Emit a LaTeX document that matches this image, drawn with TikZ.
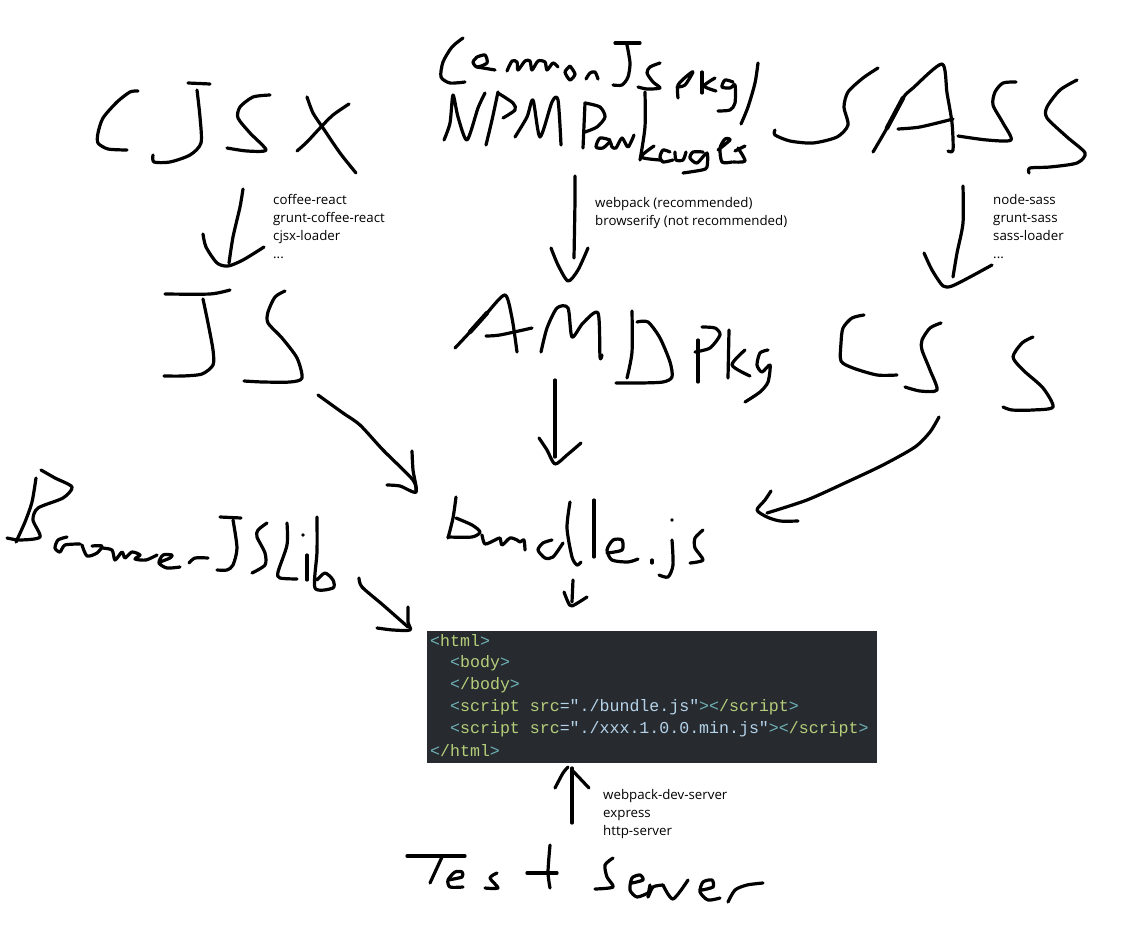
\documentclass[tikz,border=0pt]{standalone}
\usepackage{fontspec}
\setmainfont{Open Sans}
\newfontfamily\codefont{Liberation Mono}
\definecolor{boxbg}{HTML}{272B2F}
\definecolor{cbr}{HTML}{6FB3B8}
\definecolor{ctag}{HTML}{B5CE7A}
\definecolor{cstr}{HTML}{B4D2EA}
\newcommand{\hw}[1]{\draw[hand] plot[smooth,tension=0.45] coordinates {#1};}
\newcommand{\lt}{\textcolor{cbr}{<}}
\newcommand{\gt}{\textcolor{cbr}{>}}
\newcommand{\tg}[1]{\textcolor{ctag}{#1}}
\newcommand{\st}[1]{\textcolor{cstr}{#1}}
\tikzset{
  hand/.style={line width=3.2pt,line cap=round,line join=round,black},
  lab/.style={font=\fontsize{13.3}{18.2}\selectfont,anchor=north west,align=left,inner sep=0pt,text=black},
  codeline/.style={font=\codefont\fontsize{16.6}{20}\selectfont,anchor=west,inner sep=0pt},
  codebox/.style={fill=boxbg,anchor=north west,minimum width=450pt,minimum height=132pt,inner sep=0pt}
}
\begin{document}
\begin{tikzpicture}[x=1pt,y=-1pt]
\useasboundingbox (0,0) rectangle (1134,936);
\fill[white] (0,0) rectangle (1134,936);
% CJSX
\hw{(138,91)(130,92)(117,102)(103,118)(98,133)(98,143)(108,149)(127,150)}
\hw{(188,83)(210,84)}
\hw{(197,90)(200,117)(201,143)(190,155)(170,162)(154,162)(153,155)}
\hw{(270,95)(253,97)(240,107)(238,118)(250,133)(266,150)(247,151)(227,148)}
\hw{(307,97)(313,113)(323,128)(340,153)(356,173)}
\hw{(349,104)(333,115)(320,128)(307,142)(297,151)}
\hw{(243,189)(240,207)(233,237)(229,263)}
\hw{(203,234)(206,247)(217,263)(228,266)(243,260)(264,247)}
\node[lab] (l1) at (273,194) {coffee-react\\grunt-coffee-react\\cjsx-loader\\...};
% CommonJS pkg / NPM Packages
\hw{(463,38)(452,47)(443,62)(441,77)(450,83)(465,82)}
\hw{(477,57)(485,55)(487,63)(477,67)(473,62)(477,57)}
\hw{(477,67)(495,70)}
\hw{(507,71)(512,61)(517,62)(518,70)(525,61)(530,61)(532,70)(538,61)(545,62)(547,70)(553,63)(558,67)}
\hw{(570,66)(565,72)(570,80)(575,74)(570,66)}
\hw{(586,79)(590,73)(595,72)(598,79)}
\hw{(615,43)(640,43)}
\hw{(627,45)(630,63)(628,77)(622,85)(613,85)}
\hw{(660,63)(650,67)(647,73)(653,82)(660,88)(647,89)(638,87)}
\hw{(678,98)(678,85)(688,75)(693,72)(685,85)(677,87)}
\hw{(702,72)(702,93)}
\hw{(715,78)(704,86)(716,91)}
\hw{(733,82)(725,80)(722,87)(730,88)(735,85)(735,103)(730,110)(718,111)}
\hw{(758,63)(755,83)(748,107)(741,124)}
\hw{(444,140)(450,123)(453,95)(458,117)(467,140)(478,108)(485,93)}
\hw{(498,92)(492,120)(486,145)}
\hw{(498,93)(513,103)(515,110)(503,118)}
\hw{(515,137)(527,117)(533,100)(540,137)(552,102)(558,100)(561,145)}
\hw{(585,103)(583,148)}
\hw{(585,103)(600,107)(605,117)(597,127)(585,132)}
\hw{(610,140)(600,138)(596,147)(603,148)(610,142)(612,147)(616,148)(622,138)(628,147)(634,135)}
\hw{(645,92)(645,127)(640,160)}
\hw{(654,146)(641,157)(660,160)}
\hw{(670,152)(663,150)(660,157)(663,162)(673,160)}
\hw{(675,152)(676,160)(683,160)(686,152)}
\hw{(703,152)(693,152)(690,158)(697,163)(707,153)(707,167)(702,170)(683,173)}
\hw{(718,150)(730,140)(725,139)(720,148)(722,162)(732,162)}
\hw{(735,151)(745,146)}
\hw{(738,148)(745,161)(733,162)}
\hw{(575,176)(575,200)(574,258)}
\hw{(551,248)(558,265)(568,281)(578,270)(588,248)}
\node[lab] (l2) at (595,197) {webpack (recommended)\\browserify (not recommended)};
% SASS
\hw{(878,68)(863,78)(848,92)(844,107)(848,125)(837,137)(813,143)(790,141)(775,135)(775,130)}
\hw{(873,152)(887,128)(903,98)(913,88)(942,64)(947,93)(952,123)(953,150)(948,151)}
\draw[hand,line width=4.5pt] (887,128) -- (903,98);
\hw{(898,129)(920,127)(953,119)}
\hw{(1016,82)(1003,83)(995,92)(993,105)(1003,123)(1011,140)(987,140)(958,136)}
\hw{(1077,80)(1060,90)(1047,107)(1047,118)(1067,137)(1085,153)(1077,163)(1050,167)(1030,168)(1029,173)}
\hw{(963,186)(963,223)(957,253)(953,277)}
\hw{(924,253)(932,270)(943,286)(952,286)(970,277)(992,265)}
\node[lab] (l3) at (993,194) {node-sass\\grunt-sass\\sass-loader\\...};
% JS
\hw{(165,294)(210,294)(230,290)}
\hw{(203,299)(208,323)(213,350)(213,365)(202,374)(183,376)(164,376)}
\hw{(285,291)(275,297)(268,312)(268,323)(282,338)(297,358)(302,378)(290,382)(263,382)(244,381)}
\hw{(318,395)(343,413)(360,425)(383,450)(413,480)(416,492)}
\hw{(412,451)(413,470)(416,492)(400,486)(387,485)}
% AMD Pkg
\hw{(455,348)(470,332)(487,313)(505,295)(512,318)(517,352)}
\draw[hand,line width=4.5pt] (470,332) -- (487,313);
\hw{(486,336)(500,335)(532,328)}
\hw{(541,352)(547,328)(557,308)(568,308)(572,337)(583,323)(598,313)(600,357)(602,355)}
\hw{(632,311)(632,352)(627,378)}
\hw{(637,322)(648,322)(660,338)(670,362)(672,377)(663,382)(640,383)(616,383)}
\hw{(698,340)(698,382)}
\hw{(702,327)(715,328)(720,335)(710,348)(695,352)}
\hw{(729,330)(728,378)}
\hw{(745,350)(732,365)(750,376)}
\hw{(768,350)(760,353)(757,365)(762,372)(770,365)(768,382)(760,392)(745,402)}
\hw{(555,380)(555,457)}
\hw{(539,438)(547,450)(555,464)(567,455)(581,443)}
% CSS
\hw{(864,315)(852,318)(843,328)(841,343)(841,361)(853,368)(877,375)(897,375)}
\hw{(941,323)(930,328)(922,340)(922,350)(930,370)(937,390)(920,391)(905,387)}
\hw{(1033,337)(1022,343)(1013,357)(1023,370)(1043,388)(1053,407)(1033,410)(1012,410)(1003,407)}
\hw{(939,417)(930,432)(915,447)(883,465)(847,482)(807,500)(767,513)}
\hw{(771,491)(765,500)(757,510)(767,517)(780,521)(798,521)}
% Browser JS Lib
\hw{(36,478)(32,502)(25,522)(16,542)}
\hw{(41,470)(55,478)(72,487)(63,498)(38,508)(33,520)(40,537)(20,540)(7,538)}
\hw{(67,537)(58,540)(55,548)(60,552)(65,545)(80,544)}
\hw{(82,545)(87,556)(97,553)(102,546)(92,546)}
\hw{(102,548)(112,550)(115,560)(122,552)(125,558)(132,552)(140,555)(135,559)(146,560)(157,555)}
\hw{(160,562)(170,558)(172,555)(163,555)(159,563)(167,568)(180,567)}
\hw{(189,563)(195,558)(208,558)}
\hw{(220,517)(241,518)}
\hw{(233,520)(237,548)(233,565)(227,570)(217,570)}
\hw{(267,523)(258,530)(257,537)(265,553)(265,565)(252,573)}
\hw{(287,523)(287,545)(278,572)(280,578)(297,579)}
\hw{(307,555)(307,580)}
\fill (303,535) circle (1.8pt);
\hw{(317,517)(317,552)(315,588)(333,588)(333,580)(325,573)(317,580)}
\hw{(359,578)(362,587)(383,605)(408,627)}
\hw{(408,607)(408,622)(410,630)(393,630)(377,628)}
% bundle.js
\hw{(456,497)(453,518)(448,538)}
\hw{(456,518)(472,525)(480,532)(472,537)(448,537)}
\hw{(482,535)(485,544)(495,540)(500,538)(502,545)(510,538)(517,540)(520,542)(524,540)(525,550)}
\hw{(570,502)(567,528)(572,557)(577,565)(581,562)}
\hw{(552,540)(543,543)(538,550)(545,558)(553,557)(563,543)}
\hw{(594,500)(594,557)}
\hw{(607,553)(622,550)(622,540)(613,540)(607,550)(612,560)(628,562)(638,559)}
\hw{(652,560)(652,563)}
\fill (672,520) circle (1.8pt);
\hw{(672,540)(673,565)(668,577)(659,575)}
\hw{(703,530)(695,538)(695,548)(703,560)(690,563)}
\hw{(573,580)(572,602)}
\hw{(564,592)(568,602)(572,606)(587,597)}
% code box
\node[codebox] (code) at (427,631) {};
\node[codeline] (c1) at (430,641) {\lt\tg{html}\gt};
\node[codeline] (c2) at (450,663) {\lt\tg{body}\gt};
\node[codeline] (c3) at (450,685) {\lt\tg{/body}\gt};
\node[codeline] (c4) at (450,707) {\lt\tg{script src}\st{="./bundle.js"}\gt\lt\tg{/script}\gt};
\node[codeline] (c5) at (450,729) {\lt\tg{script src}\st{="./xxx.1.0.0.min.js"}\gt\lt\tg{/script}\gt};
\node[codeline] (c6) at (430,751) {\lt\tg{/html}\gt};
% Test Server
\hw{(572,823)(572,768)}
\hw{(555,788)(563,773)(568,767)}
\hw{(572,770)(589,788)}
\node[lab] (l4) at (603,789) {webpack-dev-server\\express\\http-server};
\hw{(407,856)(465,856)}
\hw{(442,857)(430,883)}
\hw{(448,880)(462,877)(462,872)(455,872)(448,880)(450,887)(463,887)}
\hw{(497,873)(490,878)(498,888)(485,888)}
\hw{(550,845)(548,872)(550,888)}
\hw{(527,873)(557,873)}
\hw{(613,858)(605,865)(607,877)(613,887)(595,889)}
\hw{(632,883)(643,880)(640,875)(632,878)(630,890)(637,897)(648,893)}
\hw{(650,885)(648,897)(653,887)(663,885)}
\hw{(663,885)(673,899)(688,880)}
\hw{(702,890)(713,887)(712,880)(703,882)(700,892)(708,900)(720,898)}
\hw{(728,902)(735,890)(747,885)(763,883)}
\end{tikzpicture}
\end{document}
